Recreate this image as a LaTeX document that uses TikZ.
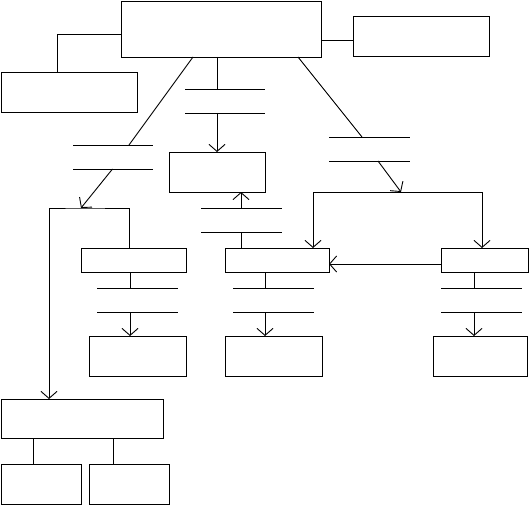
\documentclass[tikz,border=0pt]{standalone}
\usetikzlibrary{arrows.meta}
\begin{document}
\begin{tikzpicture}[x=1pt,y=-1pt,line width=0.9pt,
  box/.style={draw,rectangle,inner sep=0pt,outer sep=0pt},
  gapbars/.style={rectangle,inner sep=0pt,outer sep=0pt,minimum width=81pt,minimum height=24pt,
    append after command={
      (\tikzlastnode.north west) edge[-] (\tikzlastnode.north east)
      (\tikzlastnode.south west) edge[-] (\tikzlastnode.south east)}},
  arr/.style={-{Straight Barb[length=7pt,width=16pt]}}]
\useasboundingbox (0,0) rectangle (529,505);
% boxes
\node[box,minimum width=200pt,minimum height=56pt] (top) at (221,29) {};
\node[box,minimum width=136pt,minimum height=40pt] (left) at (69,92) {};
\node[box,minimum width=136pt,minimum height=40pt] (right) at (421,36) {};
\node[box,minimum width=96pt,minimum height=40pt] (M) at (217,172) {};
\node[box,minimum width=105pt,minimum height=24pt] (A) at (133.5,260) {};
\node[box,minimum width=104pt,minimum height=24pt] (B) at (277,260) {};
\node[box,minimum width=87pt,minimum height=24pt] (C) at (484.5,260) {};
\node[box,minimum width=97pt,minimum height=40pt] (A2) at (137.5,356) {};
\node[box,minimum width=97pt,minimum height=40pt] (B2) at (273.5,356) {};
\node[box,minimum width=94pt,minimum height=40pt] (C2) at (480,356) {};
\node[box,minimum width=162pt,minimum height=39pt] (D) at (82,418.5) {};
\node[box,minimum width=80pt,minimum height=40pt] (D1) at (41,484) {};
\node[box,minimum width=80pt,minimum height=40pt] (D2) at (129,484) {};
% gap bars
\node[gapbars,minimum width=80pt] (gL) at (113,157) {};
\node[gapbars,minimum width=80pt] (gM) at (225,101) {};
\node[gapbars] (gR) at (369.5,149) {};
\node[gapbars] (gM2) at (241.5,220) {};
\node[gapbars] (gA) at (137.5,300) {};
\node[gapbars] (gB) at (273.5,300) {};
\node[gapbars] (gC) at (481.5,300) {};
% helper coordinates
\coordinate (jL) at (81,208);
\coordinate (jR) at (401,192);
\coordinate (xleft) at (57,0);
\coordinate (xla) at (129,0);
\coordinate (xld) at (49,0);
\coordinate (xa) at (130,0);
\coordinate (xb) at (265,0);
\coordinate (xc) at (474,0);
\coordinate (xm2) at (241,0);
\coordinate (xrb) at (313,0);
\coordinate (xrc) at (482,0);
\coordinate (xd1) at (33,0);
\coordinate (xd2) at (113,0);
% connectors
\draw ([yshift=-5pt]top.west) -| (left.north -| xleft);
\draw ([yshift=-4pt]right.west) -- ([yshift=-4pt]right.west -| top.east);
\draw ([xshift=-28pt]top.south) -- (gL.north -| xla);
\draw[arr] ([xshift=-0.5pt]gL.south) -- (jL);
\draw[arr] (A.north -| xla) |- (jL) -| (D.north -| xld);
\draw (M.north |- top.south) -- (M.north |- gM.north);
\draw[arr] (M.north |- gM.south) -- (M.north);
\draw[arr] (gM2.north -| xm2) -- (M.south -| xm2);
\draw (gM2.south -| xm2) -- (B.north -| xm2);
\draw ([xshift=77pt]top.south) -- ([xshift=-7.5pt]gR.north);
\draw[arr] ([xshift=8.5pt]gR.south) -- (jR);
\draw[arr] (jR) -| (B.north -| xrb);
\draw[arr] (jR) -| (C.north -| xrc);
\draw[arr] ([yshift=-4pt]C.west) -- ([yshift=-4pt]C.west -| B.east);
\draw (A.south -| xa) -- (gA.north -| xa);
\draw[arr] (gA.south -| xa) -- (A2.north -| xa);
\draw (B.south -| xb) -- (gB.north -| xb);
\draw[arr] (gB.south -| xb) -- (B2.north -| xb);
\draw (C.south -| xc) -- (gC.north -| xc);
\draw[arr] (gC.south -| xc) -- (C2.north -| xc);
\draw (D.south -| xd1) -- (D1.north -| xd1);
\draw (D.south -| xd2) -- (D2.north -| xd2);
\end{tikzpicture}
\end{document}
